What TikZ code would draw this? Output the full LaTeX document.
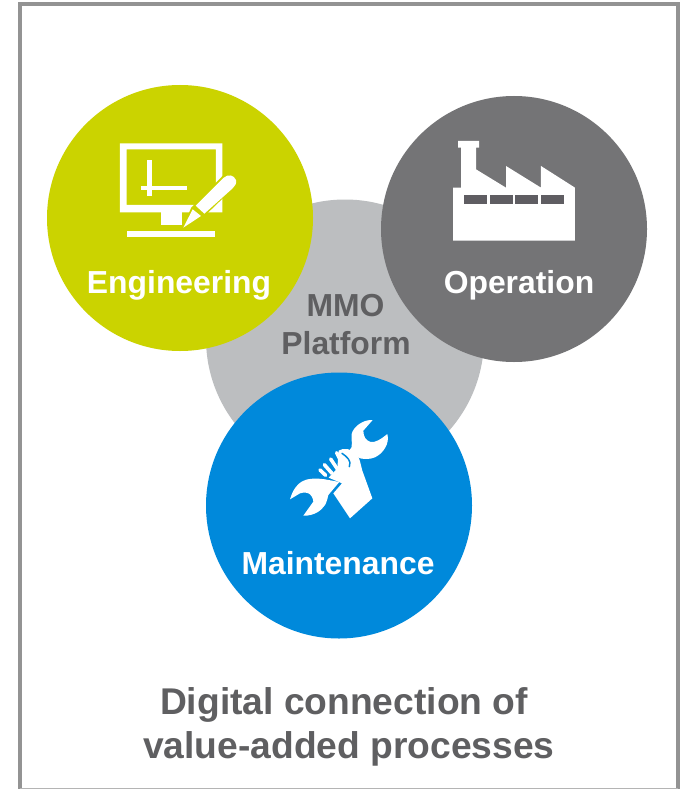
\documentclass[tikz,border=0pt]{standalone}
\usepackage{fontspec}
\setmainfont{Liberation Sans}
\definecolor{lime}{HTML}{CBD300}
\definecolor{dgray}{HTML}{747476}
\definecolor{bblue}{HTML}{0089DB}
\definecolor{lgray}{HTML}{BCBEC0}
\definecolor{tgray}{HTML}{5F5F61}
\definecolor{fgray}{HTML}{939393}
\definecolor{wing}{HTML}{5F5D62}
\tikzset{
  disc/.style={circle,inner sep=0pt,minimum size=266pt,draw=none},
  lbl/.style={font=\fontsize{31.85}{36}\selectfont\bfseries,inner sep=0pt,text=white},
  ttl/.style={font=\fontsize{37.2}{44.5}\selectfont\bfseries,inner sep=0pt,text=tgray,align=center},
  ic/.style={fill=white,draw=none},
  finger/.style={white,line width=3.6pt,line cap=round},
  slit/.style={bblue,line width=1.5pt,line cap=round}
}
\begin{document}
\begin{tikzpicture}[x=1pt,y=-1pt]
\useasboundingbox (0,0) rectangle (688,789);
\fill[white] (0,0) rectangle (688,789);
\draw[fgray,line width=4pt] (20,795) -- (20,4) -- (678,4) -- (678,795);
\draw[fgray!70,line width=1pt] (20,788.5) -- (678,788.5);
\node[circle,inner sep=0pt,minimum size=278pt,fill=lgray] (plat) at (345,338.5) {};
\node[disc,fill=lime] (eng) at (180,218) {};
\node[disc,fill=dgray] (op) at (514,229) {};
\node[disc,fill=bblue] (mnt) at (339,505.5) {};
\node[lbl] (englbl) at (179,285) {Engineering};
\node[lbl] (oplbl) at (519,285) {Operation};
\node[lbl] (mntlbl) at (338,563) {Maintenance};
\node[lbl,text=tgray] (pl1) at (345.5,306) {MMO};
\node[lbl,text=tgray] (pl2) at (346,343) {Platform};
\node[ttl] (t1) at (344,705) {Digital connection of};
\node[ttl] (t2) at (349,749) {value-added processes};
% computer icon
\begin{scope}[shift={(100,130)},x=0.3333pt,y=-0.3333pt]
\fill[ic,even odd rule] (60,40) rectangle (367,247) (80,58) rectangle (348,225);
\fill[ic] (183,247) rectangle (247,285);
\fill[ic] (81,303) rectangle (345,321);
\fill[ic] (142,90) rectangle (156,197);
\fill[ic] (122,167) rectangle (261,180);
% pencil
\fill[lime,draw=lime,line width=4pt,line join=round] (253,295) -- (279,236) -- (372,142) -- (398,168) -- (305,258) -- cycle;
\fill[ic] (250,293) -- (278,238) -- (303,258) -- cycle;
\fill[ic] (287,227) -- (370,144) .. controls (385,130) and (402,136) .. (408,150) .. controls (411,160) and (405,168) .. (398,175) -- (313,251) -- cycle;
\end{scope}
% factory icon
\begin{scope}[shift={(440,130)},x=0.3333pt,y=-0.3333pt]
\fill[ic] (39,332) -- (405,332) -- (405,173) -- (303,108) -- (303,173) -- (198,108) -- (198,173) -- (108,118) -- (108,53) -- (117,53) -- (117,33) -- (54,33) -- (54,53) -- (63,53) -- (63,173) -- (39,173) -- cycle;
\fill[wing] (72,195) rectangle (141,222);
\fill[wing] (150,195) rectangle (219,222);
\fill[wing] (225,195) rectangle (294,222);
\fill[wing] (303,195) rectangle (372,222);
\end{scope}
% wrench icon
\begin{scope}[shift={(280,410)},x=0.3333pt,y=-0.3333pt]
% upper head
\fill[ic] (208,122) .. controls (222,110) and (212,90) .. (215,72) .. controls (220,50) and (250,28) .. (278,30) -- (250,62) .. controls (250,80) and (258,92) .. (272,96) .. controls (285,98) and (300,90) .. (322,72) .. controls (330,100) and (310,130) .. (285,142) .. controls (270,148) and (255,148) .. (240,145) -- cycle;
% lower head
\fill[ic] (30,268) .. controls (38,240) and (52,222) .. (65,215) .. controls (78,207) and (100,203) .. (135,208) -- (178,216) -- (145,255) .. controls (142,270) and (138,280) .. (135,285) .. controls (125,300) and (105,318) .. (70,317) -- (100,275) .. controls (100,265) and (92,252) .. (85,250) .. controls (75,246) and (65,248) .. (60,250) -- cycle;
% hand body
\fill[ic] (176,122) .. controls (190,112) and (215,116) .. (230,132) .. controls (240,145) and (242,165) .. (247,182) -- (277,265) -- (210,325) -- (160,250) -- (186,220) -- (146,203) -- (172,175) -- cycle;
% fingers
\draw[finger] (120,180) -- (137,196);
\draw[finger] (133,164) -- (156,190);
\draw[finger] (152,147) -- (174,180);
\draw[finger] (170,128) -- (190,168);
% slit between thumb and fingers
\draw[slit] (186,130) .. controls (200,140) and (216,152) .. (208,170);
\end{scope}
\end{tikzpicture}
\end{document}
